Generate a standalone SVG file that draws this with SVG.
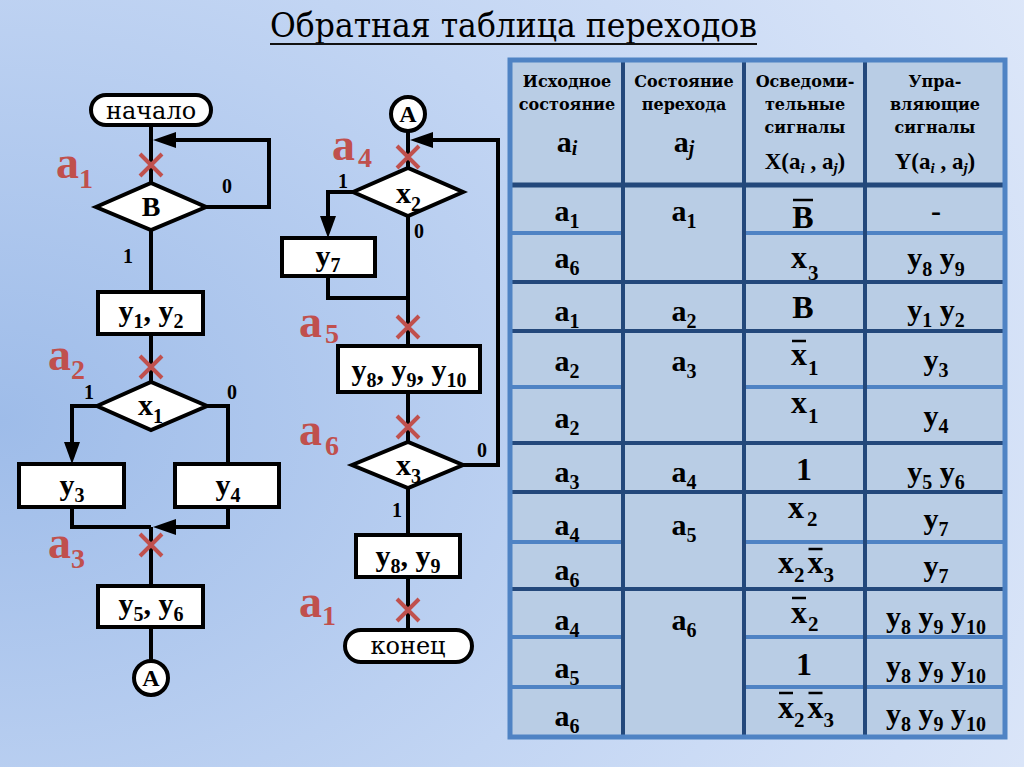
<svg xmlns="http://www.w3.org/2000/svg" width="1024" height="767" viewBox="0 0 1024 767">
<defs>
<radialGradient id="bg" cx="0" cy="0.55" r="1.15">
<stop offset="0" stop-color="#9ebce9"/>
<stop offset="0.55" stop-color="#c2d5f3"/>
<stop offset="1" stop-color="#dde7f9"/>
</radialGradient>
<style>
.t{font-family:"Liberation Serif","DejaVu Serif","Times New Roman",serif;font-weight:bold;fill:#000}
.cy{font-family:"DejaVu Serif","Liberation Serif",serif}
.m{text-anchor:middle}
.hd{font-size:16px}
.c{font-size:30px}
.s{font-size:20px}
.cx{font-size:32px}
.sx{font-size:21px}
.lb{font-size:20px}
.red{fill:#c0504d;font-size:46px}
.rs{font-size:28px}
.nd{fill:#fff;stroke:#000;stroke-width:4}
.cn{fill:none;stroke:#000;stroke-width:4}
.ah{fill:#000}
.xm{stroke:#c0504d;stroke-width:4;stroke-linecap:butt}
.dk{stroke:#23487b;stroke-width:4}
.lt{stroke:#4f83c4;stroke-width:4}
.ov{stroke:#000;stroke-width:2.5}
</style>
</defs>
<rect x="0" y="0" width="1024" height="767" fill="url(#bg)"/>

<g id="title">
<text class="t cy" x="270" y="37" style="font-weight:normal" font-size="34" textLength="487" lengthAdjust="spacingAndGlyphs" fill="#111">Обратная таблица переходов</text>
<line x1="270" y1="44" x2="757" y2="44" stroke="#111" stroke-width="2"/>
</g>

<g id="table">
<rect x="510" y="60" width="495" height="677" fill="#b9cde5"/>
<g class="lt">
<line x1="510" y1="233" x2="623" y2="233"/><line x1="744" y1="233" x2="1005" y2="233"/>
<line x1="510" y1="387" x2="623" y2="387"/><line x1="744" y1="387" x2="1005" y2="387"/>
<line x1="510" y1="542" x2="623" y2="542"/><line x1="744" y1="542" x2="1005" y2="542"/>
<line x1="510" y1="637" x2="623" y2="637"/><line x1="744" y1="637" x2="1005" y2="637"/>
<line x1="510" y1="687" x2="623" y2="687"/><line x1="744" y1="687" x2="1005" y2="687"/>
</g>
<g class="dk">
<line x1="510" y1="185" x2="1005" y2="185" stroke-width="5"/>
<line x1="510" y1="282" x2="1005" y2="282"/>
<line x1="510" y1="331" x2="1005" y2="331"/>
<line x1="510" y1="443" x2="1005" y2="443"/>
<line x1="510" y1="492" x2="1005" y2="492"/>
<line x1="510" y1="589" x2="1005" y2="589"/>
<line x1="623" y1="60" x2="623" y2="737"/>
<line x1="744" y1="60" x2="744" y2="737"/>
<line x1="865" y1="60" x2="865" y2="737"/>
</g>
<rect x="510" y="60" width="495" height="677" fill="none" stroke="#4f83c4" stroke-width="5"/>

<g class="t cy m hd">
<text x="567" y="87">Исходное</text><text x="567" y="110">состояние</text>
<text x="684" y="87">Состояние</text><text x="684" y="110">перехода</text>
<text x="805" y="87">Осведоми-</text><text x="805" y="110">тельные</text><text x="805" y="133">сигналы</text>
<text x="935" y="87">Упра-</text><text x="935" y="110">вляющие</text><text x="935" y="133">сигналы</text>
</g>
<text class="t m c" x="567" y="152">a<tspan font-size="20" font-style="italic" dy="3">i</tspan></text>
<text class="t m c" x="684" y="152">a<tspan font-size="20" font-style="italic" dy="3">j</tspan></text>
<text class="t m" font-size="23" x="805" y="169">X(a<tspan font-size="15" font-style="italic" dy="4">i</tspan><tspan dy="-4"> , a</tspan><tspan font-size="15" font-style="italic" dy="4">j</tspan><tspan dy="-4">)</tspan></text>
<text class="t m" font-size="23" x="935" y="169">Y(a<tspan font-size="15" font-style="italic" dy="4">i</tspan><tspan dy="-4"> , a</tspan><tspan font-size="15" font-style="italic" dy="4">j</tspan><tspan dy="-4">)</tspan></text>

<g class="t m c">
<text x="567" y="221">a<tspan class="s" dy="7">1</tspan></text>
<text x="567" y="268">a<tspan class="s" dy="7">6</tspan></text>
<text x="567" y="321">a<tspan class="s" dy="7">1</tspan></text>
<text x="567" y="371">a<tspan class="s" dy="7">2</tspan></text>
<text x="567" y="428">a<tspan class="s" dy="7">2</tspan></text>
<text x="567" y="482">a<tspan class="s" dy="7">3</tspan></text>
<text x="567" y="535">a<tspan class="s" dy="7">4</tspan></text>
<text x="567" y="580">a<tspan class="s" dy="7">6</tspan></text>
<text x="567" y="630">a<tspan class="s" dy="7">4</tspan></text>
<text x="567" y="678">a<tspan class="s" dy="7">5</tspan></text>
<text x="567" y="726">a<tspan class="s" dy="7">6</tspan></text>

<text x="684" y="221">a<tspan class="s" dy="7">1</tspan></text>
<text x="684" y="321">a<tspan class="s" dy="7">2</tspan></text>
<text x="684" y="371">a<tspan class="s" dy="7">3</tspan></text>
<text x="684" y="482">a<tspan class="s" dy="7">4</tspan></text>
<text x="684" y="535">a<tspan class="s" dy="7">5</tspan></text>
<text x="684" y="630">a<tspan class="s" dy="7">6</tspan></text>

<text x="936" y="221">-</text>
<text x="936" y="268">y<tspan class="s" dy="8">8</tspan><tspan dy="-8"> y</tspan><tspan class="s" dy="8">9</tspan></text>
<text x="936" y="320">y<tspan class="s" dy="7">1</tspan><tspan dy="-7"> y</tspan><tspan class="s" dy="7">2</tspan></text>
<text x="936" y="370">y<tspan class="s" dy="7">3</tspan></text>
<text x="936" y="426">y<tspan class="s" dy="7">4</tspan></text>
<text x="936" y="482">y<tspan class="s" dy="7">5</tspan><tspan dy="-7"> y</tspan><tspan class="s" dy="7">6</tspan></text>
<text x="936" y="529">y<tspan class="s" dy="7">7</tspan></text>
<text x="936" y="576">y<tspan class="s" dy="7">7</tspan></text>
<text x="936" y="627">y<tspan class="s" dy="7">8</tspan><tspan dy="-7"> y</tspan><tspan class="s" dy="7">9</tspan><tspan dy="-7"> y</tspan><tspan class="s" dy="7">10</tspan></text>
<text x="936" y="676">y<tspan class="s" dy="7">8</tspan><tspan dy="-7"> y</tspan><tspan class="s" dy="7">9</tspan><tspan dy="-7"> y</tspan><tspan class="s" dy="7">10</tspan></text>
<text x="936" y="724">y<tspan class="s" dy="7">8</tspan><tspan dy="-7"> y</tspan><tspan class="s" dy="7">9</tspan><tspan dy="-7"> y</tspan><tspan class="s" dy="7">10</tspan></text>
</g>

<g class="t cx">
<text class="m" x="803" y="228">B</text>
<text x="791" y="268">x<tspan class="sx" dx="1" dy="12">3</tspan></text>
<text class="m" x="803" y="318">B</text>
<text x="791" y="365">x<tspan class="sx" dx="1" dy="10">1</tspan></text>
<text x="791" y="413">x<tspan class="sx" dx="1" dy="10">1</tspan></text>
<text class="m" x="804" y="480">1</text>
<text x="788" y="518">x<tspan class="sx" dx="3" dy="8">2</tspan></text>
<text x="778" y="573">x<tspan class="sx" dy="9">2</tspan><tspan dx="3" dy="-9">x</tspan><tspan class="sx" dy="9">3</tspan></text>
<text x="791" y="623">x<tspan class="sx" dx="1" dy="8">2</tspan></text>
<text class="m" x="804" y="675">1</text>
<text x="778" y="718">x<tspan class="sx" dy="9">2</tspan><tspan dx="3" dy="-9">x</tspan><tspan class="sx" dy="9">3</tspan></text>
</g>
<g class="ov">
<line x1="793" y1="200" x2="813" y2="200"/>
<line x1="792" y1="341" x2="806" y2="341"/>
<line x1="808.5" y1="549" x2="822.5" y2="549"/>
<line x1="792" y1="598" x2="806" y2="598"/>
<line x1="779" y1="693" x2="793" y2="693"/>
<line x1="808.5" y1="693" x2="822.5" y2="693"/>
</g>
</g>

<g id="connectors">
<path class="cn" d="M151 125V183M206 207H269V140H165M151 230V292M151 334V382M97 406H72V446M207 406H228V464M72 507V527H151M228 507V527H168M151 527V586M151 627V661"/>
<polygon class="ah" points="153,140 176,132 176,148"/>
<polygon class="ah" points="72,464 64,442 80,442"/>
<polygon class="ah" points="153,527 176,519 176,535"/>
<path class="cn" d="M408 131V168M463 465H498V140H422M353 192H328V219M408 216V346M328 276V298H408M408 392V442M408 488V535M408 577V630"/>
<polygon class="ah" points="410,140 433,132 433,148"/>
<polygon class="ah" points="328,238 320,216 336,216"/>
</g>

<g id="n-start"><rect class="nd" x="91" y="95" width="120" height="30" rx="15"/><text class="t cy m" style="font-weight:normal" font-size="24" x="151" y="119">начало</text></g>
<g id="n-B"><polygon class="nd" points="96,207 151,183 206,207 151,230"/><text class="t m" font-size="28" x="151" y="216">B</text></g>
<g id="n-y1y2"><rect class="nd" x="98" y="292" width="105" height="42"/><text class="t m c" x="151" y="321">y<tspan class="s" dy="7">1</tspan><tspan dy="-7">, y</tspan><tspan class="s" dy="7">2</tspan></text></g>
<g id="n-x1"><polygon class="nd" points="97,406 151,382 207,406 151,430"/><text class="t c" x="138" y="415">x<tspan class="s" dy="8">1</tspan></text></g>
<g id="n-y3"><rect class="nd" x="19" y="464" width="105" height="43"/><text class="t m c" x="72" y="495">y<tspan class="s" dy="7">3</tspan></text></g>
<g id="n-y4"><rect class="nd" x="175" y="464" width="104" height="43"/><text class="t m c" x="228" y="495">y<tspan class="s" dy="7">4</tspan></text></g>
<g id="n-y5y6"><rect class="nd" x="98" y="586" width="105" height="41"/><text class="t m c" x="151" y="614">y<tspan class="s" dy="7">5</tspan><tspan dy="-7">, y</tspan><tspan class="s" dy="7">6</tspan></text></g>
<g id="n-A1"><circle class="nd" cx="151" cy="678" r="17"/><text class="t m" font-size="24" x="151" y="686">A</text></g>

<g id="n-A2"><circle class="nd" cx="408" cy="114" r="17"/><text class="t m" font-size="24" x="408" y="122">A</text></g>
<g id="n-x2"><polygon class="nd" points="353,192 408,168 463,192 408,216"/><text class="t c" x="396" y="203">x<tspan class="s" dy="8">2</tspan></text></g>
<g id="n-y7"><rect class="nd" x="282" y="238" width="93" height="38"/><text class="t m c" x="328" y="266">y<tspan class="s" dy="6">7</tspan></text></g>
<g id="n-y8y9y10"><rect class="nd" x="338" y="346" width="142" height="46"/><text class="t m c" x="409" y="380">y<tspan class="s" dy="7">8</tspan><tspan dy="-7">, y</tspan><tspan class="s" dy="7">9</tspan><tspan dy="-7">, y</tspan><tspan class="s" dy="7">10</tspan></text></g>
<g id="n-x3"><polygon class="nd" points="352,465 408,442 463,465 408,488"/><text class="t c" x="396" y="475">x<tspan class="s" dy="8">3</tspan></text></g>
<g id="n-y8y9"><rect class="nd" x="356" y="535" width="104" height="42"/><text class="t m c" x="408" y="566">y<tspan class="s" dy="7">8</tspan><tspan dy="-7">, y</tspan><tspan class="s" dy="7">9</tspan></text></g>
<g id="n-end"><rect class="nd" x="345" y="630" width="127" height="32" rx="16"/><text class="t cy m" style="font-weight:normal" font-size="24" x="408" y="654">конец</text></g>

<g id="branch-labels" class="t m lb">
<text x="227" y="193">0</text>
<text x="128" y="263">1</text>
<text x="89" y="399">1</text>
<text x="232" y="399">0</text>
<text x="343" y="188">1</text>
<text x="419" y="238">0</text>
<text x="482" y="457">0</text>
<text x="397" y="517">1</text>
</g>

<g id="state-marks" class="xm">
<path d="M140 154L162 176M162 154L140 176"/>
<path d="M140 356L162 378M162 356L140 378"/>
<path d="M140 534L162 556M162 534L140 556"/>
<path d="M397 146L419 168M419 146L397 168"/>
<path d="M397 316L419 338M419 316L397 338"/>
<path d="M397 416L419 438M419 416L397 438"/>
<path d="M397 599L419 621M419 599L397 621"/>
</g>

<g id="state-labels" class="t red">
<text x="56" y="178">a<tspan class="rs" dy="10">1</tspan></text>
<text x="48" y="370">a<tspan class="rs" dy="9">2</tspan></text>
<text x="48" y="558">a<tspan class="rs" dy="10">3</tspan></text>
<text x="332" y="160">a<tspan class="rs" dx="3" dy="7">4</tspan></text>
<text x="299" y="337">a<tspan class="rs" dx="3" dy="6">5</tspan></text>
<text x="299" y="445">a<tspan class="rs" dx="3" dy="10">6</tspan></text>
<text x="299" y="617">a<tspan class="rs" dy="8">1</tspan></text>
</g>
</svg>
